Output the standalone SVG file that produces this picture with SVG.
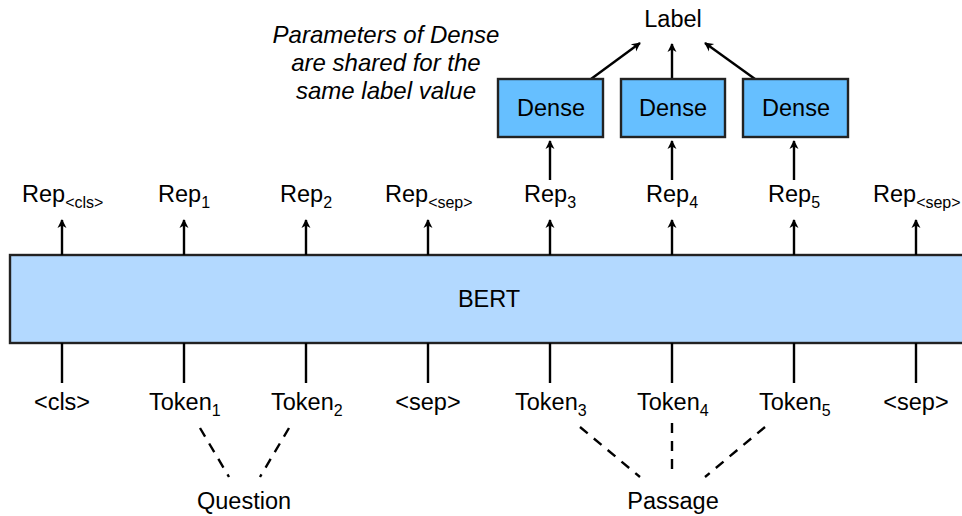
<svg xmlns="http://www.w3.org/2000/svg" width="962" height="516" viewBox="0 0 962 516">
<defs>
<style>
text{font-family:"Liberation Sans",Arial,sans-serif;font-size:23.5px;fill:#000;}
.c{text-anchor:middle;}
.sub{font-size:16px;}
.it{font-style:italic;font-size:24px;}
.ln{stroke:#000;stroke-width:2.4;fill:none;}
.ar{stroke:#000;stroke-width:2.4;fill:none;marker-end:url(#ah);}
.ds{stroke:#000;stroke-width:2.4;fill:none;stroke-dasharray:10 8;}
.dense{fill:#66bfff;stroke:#222;stroke-width:2.4;}
</style>
<marker id="ah" viewBox="0 0 10 10" refX="9" refY="5" markerWidth="6" markerHeight="6" orient="auto" markerUnits="userSpaceOnUse" overflow="visible">
<path d="M0,0 L10,5 L0,10 L3,5 Z" fill="#000" transform="scale(1.5) translate(-3,-1.7)"/>
</marker>
</defs>
<g id="bert"><rect x="10" y="255" width="960" height="88" fill="#b3d9ff" stroke="#222" stroke-width="2.4"/><text class="c" x="489" y="307">BERT</text></g>
<g id="connectors">
<line class="ar" x1="62" y1="255" x2="62" y2="220"/>
<line class="ar" x1="184" y1="255" x2="184" y2="220"/>
<line class="ar" x1="306" y1="255" x2="306" y2="220"/>
<line class="ar" x1="428" y1="255" x2="428" y2="220"/>
<line class="ar" x1="550" y1="255" x2="550" y2="220"/>
<line class="ar" x1="672" y1="255" x2="672" y2="220"/>
<line class="ar" x1="794" y1="255" x2="794" y2="220"/>
<line class="ar" x1="916" y1="255" x2="916" y2="220"/>
<line class="ar" x1="550" y1="180" x2="550" y2="141"/>
<line class="ar" x1="672" y1="180" x2="672" y2="141"/>
<line class="ar" x1="794" y1="180" x2="794" y2="141"/>
<line class="ar" x1="591" y1="79" x2="640" y2="43"/>
<line class="ar" x1="672" y1="79" x2="672" y2="44"/>
<line class="ar" x1="755" y1="79" x2="705" y2="43"/>
<line class="ln" x1="62" y1="343" x2="62" y2="383"/>
<line class="ln" x1="184" y1="343" x2="184" y2="383"/>
<line class="ln" x1="306" y1="343" x2="306" y2="383"/>
<line class="ln" x1="428" y1="343" x2="428" y2="383"/>
<line class="ln" x1="550" y1="343" x2="550" y2="383"/>
<line class="ln" x1="672" y1="343" x2="672" y2="383"/>
<line class="ln" x1="794" y1="343" x2="794" y2="383"/>
<line class="ln" x1="916" y1="343" x2="916" y2="383"/>
<line class="ds" x1="200" y1="428" x2="229" y2="477"/>
<line class="ds" x1="289" y1="428" x2="260" y2="477"/>
<line class="ds" x1="580" y1="427" x2="640" y2="477"/>
<line class="ds" x1="672" y1="423" x2="672" y2="477"/>
<line class="ds" x1="765" y1="427" x2="705" y2="477"/>
</g>
<g id="dense1"><rect class="dense" x="498" y="79" width="105" height="58"/><text class="c" x="551" y="116">Dense</text></g>
<g id="dense2"><rect class="dense" x="621" y="79" width="104" height="58"/><text class="c" x="673" y="116">Dense</text></g>
<g id="dense3"><rect class="dense" x="743" y="79" width="105" height="58"/><text class="c" x="796" y="116">Dense</text></g>
<g id="label"><text class="c" x="673" y="27">Label</text></g>
<g id="note"><text class="c it" x="386" y="43">Parameters of Dense</text><text class="c it" x="386" y="71">are shared for the</text><text class="c it" x="386" y="99">same label value</text></g>
<g id="reps">
<text x="22" y="202">Rep<tspan class="sub" dy="6">&lt;cls&gt;</tspan></text>
<text x="158" y="202">Rep<tspan class="sub" dy="6">1</tspan></text>
<text x="280" y="202">Rep<tspan class="sub" dy="6">2</tspan></text>
<text x="385" y="202">Rep<tspan class="sub" dy="6">&lt;sep&gt;</tspan></text>
<text x="524" y="202">Rep<tspan class="sub" dy="6">3</tspan></text>
<text x="646" y="202">Rep<tspan class="sub" dy="6">4</tspan></text>
<text x="768" y="202">Rep<tspan class="sub" dy="6">5</tspan></text>
<text x="873" y="202">Rep<tspan class="sub" dy="6">&lt;sep&gt;</tspan></text>
</g>
<g id="tokens">
<text class="c" x="62" y="410">&lt;cls&gt;</text>
<text x="149" y="410">Token<tspan class="sub" dy="6">1</tspan></text>
<text x="271" y="410">Token<tspan class="sub" dy="6">2</tspan></text>
<text class="c" x="428" y="410">&lt;sep&gt;</text>
<text x="515" y="410">Token<tspan class="sub" dy="6">3</tspan></text>
<text x="637" y="410">Token<tspan class="sub" dy="6">4</tspan></text>
<text x="759" y="410">Token<tspan class="sub" dy="6">5</tspan></text>
<text class="c" x="916" y="410">&lt;sep&gt;</text>
</g>
<g id="question"><text class="c" x="244" y="509">Question</text></g>
<g id="passage"><text class="c" x="673" y="509">Passage</text></g>
</svg>
